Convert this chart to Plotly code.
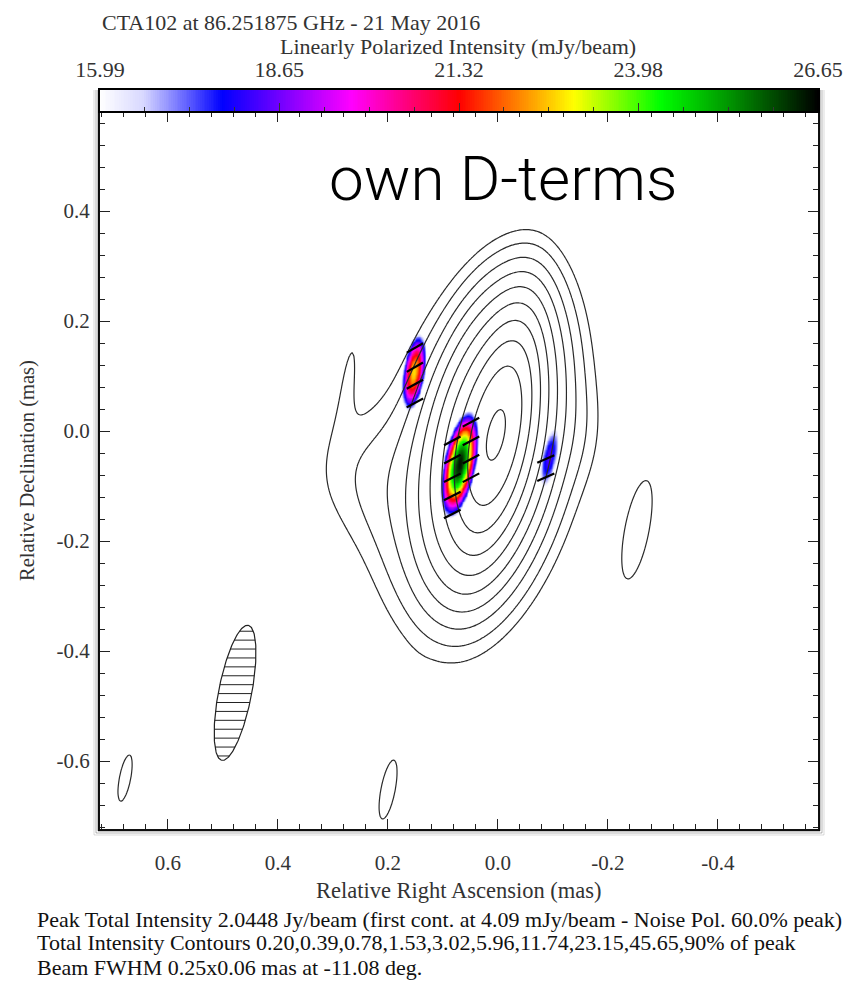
import numpy as np
import plotly.graph_objects as go

# ---------------- data ----------------
# total intensity model: gaussian components (RA mas, Dec mas, rel. amp, FWHM maj, FWHM min, PA deg N->E)
comp_ra   = [0.000, 0.015, 0.030, 0.110, 0.240, 0.270, -0.140, -0.253, 0.678, 0.200]
comp_dec  = [0.000, -0.020, -0.045, -0.130, -0.080, 0.110, 0.000, -0.180, -0.631, -0.653]
comp_amp  = [0.60, 0.40, 0.030, 0.0018, 0.003, 0.0020, 0.0012, 0.0029, 0.0022, 0.0023]
comp_maj  = [0.22, 0.27, 0.36, 0.24, 0.20, 0.20, 0.15, 0.25, 0.25, 0.25]
comp_min  = [0.065, 0.11, 0.19, 0.20, 0.16, 0.035, 0.08, 0.06, 0.06, 0.06]
comp_pa   = [-11.0, -11.0, -13.0, -20.0, 15.0, -8.0, 0.0, -11.0, -11.0, -11.0]

contour_levels = [0.20, 0.39, 0.78, 1.53, 3.02, 5.96, 11.74, 23.15, 45.65, 90.0]  # % of peak

# polarized intensity spots (mJy/beam)
pol_ra   = [0.153, 0.070, -0.093]
pol_dec  = [0.107, -0.060, -0.048]
pol_peak = [22.8, 26.5, 18.4]
pol_maj  = [0.20, 0.235, 0.24]
pol_min  = [0.058, 0.072, 0.062]
pol_pa   = [-8.0, -11.0, -11.0]

pmin, pmax = 15.99, 26.65
cbar_ticks = [15.99, 18.65, 21.32, 23.98, 26.65]
cbar_ticktext = ["15.99", "18.65", "21.32", "23.98", "26.65"]

# EVPA vectors
evpa_ra  = [0.151, 0.151, 0.151, 0.151, 0.083, 0.083, 0.083, 0.083, 0.083, 0.049, 0.049, 0.049, 0.049, -0.087, -0.087]
evpa_dec = [0.151, 0.116, 0.085, 0.051, -0.018, -0.051, -0.085, -0.118, -0.151, 0.016, -0.018, -0.051, -0.085, -0.051, -0.084]
evpa_deg = [-60, -60, -61, -62, -62, -62, -63, -63, -63, -62, -62, -62, -62, -66, -66]
evpa_len = 0.034

# beam
beam_ra, beam_dec = 0.478, -0.476
beam_maj, beam_min, beam_pa = 0.25, 0.06, -11.08

x_ticks = [0.6, 0.4, 0.2, 0.0, -0.2, -0.4]
x_ticktext = ["0.6", "0.4", "0.2", "0.0", "-0.2", "-0.4"]
y_ticks = [0.4, 0.2, 0.0, -0.2, -0.4, -0.6]
y_ticktext = ["0.4", "0.2", "0.0", "-0.2", "-0.4", "-0.6"]
ra_range = [0.7236, -0.582]
dec_range = [-0.7236, 0.58]

# ---------------- helpers ----------------
K = 4 * np.log(2)

def gauss(RA, DEC, ra0, dec0, amp, a, b, pa):
    t = np.deg2rad(pa)
    s, c = np.sin(t), np.cos(t)
    dx, dy = RA - ra0, DEC - dec0
    u = dx * s + dy * c
    v = dx * c - dy * s
    return amp * np.exp(-K * ((u / a) ** 2 + (v / b) ** 2))

# total intensity
gra = np.linspace(-0.59, 0.73, 441)
gdec = np.linspace(-0.73, 0.59, 441)
RA, DEC = np.meshgrid(gra, gdec)
I = np.zeros_like(RA)
for p in zip(comp_ra, comp_dec, comp_amp, comp_maj, comp_min, comp_pa):
    I += gauss(RA, DEC, *p)
Ipct = I / I.max() * 100.0

# polarized intensity
pra = np.linspace(-0.16, 0.26, 281)
pdec = np.linspace(-0.22, 0.23, 301)
PRA, PDEC = np.meshgrid(pra, pdec)
P = np.zeros_like(PRA)
for p in zip(pol_ra, pol_dec, pol_peak, pol_maj, pol_min, pol_pa):
    P = np.maximum(P, gauss(PRA, PDEC, *p))
Pm = np.where(P >= pmin, P, np.nan)

cscale = [
    [0.00, "#ffffff"], [0.06, "#d8d8ff"], [0.17, "#0000ff"], [0.26, "#8000ff"],
    [0.35, "#ff00ff"], [0.50, "#ff0000"], [0.58, "#ff8000"], [0.66, "#ffff00"],
    [0.78, "#00ff00"], [0.88, "#009000"], [1.00, "#000000"],
]

fig = go.Figure()

fig.add_trace(go.Heatmap(x=pra, y=pdec, z=Pm, colorscale=cscale, zmin=pmin, zmax=pmax,
                         showscale=False, hoverinfo="skip", zsmooth="best"))

for L in contour_levels:
    fig.add_trace(go.Contour(x=gra, y=gdec, z=Ipct, autocontour=False,
                             contours=dict(start=L, end=L, size=1, coloring="none"),
                             line=dict(color="#2a2a2a", width=1.2), showscale=False,
                             hoverinfo="skip"))

# EVPA segments
vx, vy = [], []
for r0, d0, ang in zip(evpa_ra, evpa_dec, evpa_deg):
    t = np.deg2rad(ang)
    ex, ny = np.sin(t) * evpa_len / 2, np.cos(t) * evpa_len / 2
    vx += [r0 - ex, r0 + ex, None]
    vy += [d0 - ny, d0 + ny, None]
fig.add_trace(go.Scatter(x=vx, y=vy, mode="lines", line=dict(color="black", width=2.2),
                         hoverinfo="skip", showlegend=False))

# beam ellipse + hatching
tt = np.linspace(0, 2 * np.pi, 200)
th = np.deg2rad(beam_pa)
s, c = np.sin(th), np.cos(th)
A2, B2 = (beam_maj / 2) ** 2, (beam_min / 2) ** 2
ex = (beam_maj / 2) * np.cos(tt) * s + (beam_min / 2) * np.sin(tt) * c
ny = (beam_maj / 2) * np.cos(tt) * c - (beam_min / 2) * np.sin(tt) * s
fig.add_trace(go.Scatter(x=beam_ra + ex, y=beam_dec + ny, mode="lines",
                         line=dict(color="#222", width=1.2), hoverinfo="skip", showlegend=False))
hx, hy = [], []
qa = s * s / A2 + c * c / B2
half_h = np.sqrt(A2 * c * c + B2 * s * s)
for dy in np.arange(-half_h + 0.008, half_h, 0.0162):
    qb = 2 * dy * (s * c / A2 - c * s / B2)
    qc = dy * dy * (c * c / A2 + s * s / B2) - 1
    disc = qb * qb - 4 * qa * qc
    if disc <= 0:
        continue
    x1 = (-qb - np.sqrt(disc)) / (2 * qa)
    x2 = (-qb + np.sqrt(disc)) / (2 * qa)
    hx += [beam_ra + x1, beam_ra + x2, None]
    hy += [beam_dec + dy, beam_dec + dy, None]
fig.add_trace(go.Scatter(x=hx, y=hy, mode="lines", line=dict(color="#222", width=1),
                         hoverinfo="skip", showlegend=False))

# colour bar (own axis)
cb_vals = np.linspace(pmin, pmax, 400)
fig.add_trace(go.Heatmap(x=cb_vals, y0=0.5, dy=1, z=[cb_vals], colorscale=cscale,
                         zmin=pmin, zmax=pmax, showscale=False, hoverinfo="skip",
                         xaxis="x2", yaxis="y2"))
fig.add_trace(go.Scatter(x=[pmin, pmax], y=[0.5, 0.5], mode="lines", line=dict(width=0),
                         opacity=0, hoverinfo="skip", showlegend=False, xaxis="x3", yaxis="y2"))

W, H = 867, 984
ml, mr, mt, mb = 100, 49, 90, 155
pw = W - ml - mr
ph = H - mt - mb
main_top = 717 / ph

def px(xp):
    return (xp - ml) / pw

def py(yp):
    return (H - mb - yp) / ph

tickfont = dict(family="Liberation Serif", size=21, color="#333")
axis_common = dict(showgrid=False, zeroline=False, showline=True, linecolor="#111", linewidth=2,
                   mirror="allticks", ticks="inside", ticklen=10, tickwidth=1.2, tickcolor="#222",
                   tickfont=tickfont)

cb_step = (pmax - pmin) / 16
fig.update_layout(
    width=W, height=H, margin=dict(l=ml, r=mr, t=mt, b=mb),
    paper_bgcolor="white", plot_bgcolor="white", showlegend=False,
    xaxis=dict(range=ra_range, tickvals=x_ticks, ticktext=x_ticktext, domain=[0, 1],
               minor=dict(ticks="inside", ticklen=5, tickcolor="#222", dtick=0.04, tick0=0),
               ticklabelstandoff=14, **axis_common),
    yaxis=dict(range=dec_range, tickvals=y_ticks, ticktext=y_ticktext, domain=[0, main_top],
               minor=dict(ticks="inside", ticklen=5, tickcolor="#222", dtick=0.04, tick0=0),
               ticklabelstandoff=4, **axis_common),
    xaxis2=dict(range=[pmin, pmax], domain=[0, 1], anchor="y2", side="top",
                tickvals=cbar_ticks, ticktext=cbar_ticktext, ticks="", showgrid=False,
                zeroline=False, showline=True, mirror=True, linecolor="black", linewidth=1.5,
                tickfont=dict(family="Liberation Serif", size=22, color="#333"),
                ticklabelstandoff=2),
    xaxis3=dict(range=[pmin, pmax], overlaying="x2", anchor="y2", side="bottom",
                tickvals=cbar_ticks, showticklabels=False, ticks="inside", ticklen=8,
                tickwidth=1.2, tickcolor="#333", showgrid=False, zeroline=False, showline=False,
                minor=dict(ticks="inside", ticklen=4, tickcolor="#333", dtick=cb_step, tick0=pmin)),
    yaxis2=dict(range=[0, 1], domain=[main_top + 0.001, 1], anchor="x2", showticklabels=False,
                ticks="", showgrid=False, zeroline=False, showline=True, mirror=True,
                linecolor="black", linewidth=1.5),
)

# soft drop shadows along the frame (paper coordinates)
shadow = []
dxp = 1.0 / pw
dyp = 1.0 / ph
for k, op in [(2, 0.22), (4, 0.14), (6, 0.07)]:
    shadow.append(dict(type="line", xref="paper", yref="paper", x0=-k * dxp, x1=-k * dxp,
                       y0=-k * dyp, y1=1.0, line=dict(color=f"rgba(0,0,0,{op})", width=2)))
    shadow.append(dict(type="line", xref="paper", yref="paper", x0=1 + k * dxp, x1=1 + k * dxp,
                       y0=-k * dyp, y1=1.0, line=dict(color=f"rgba(0,0,0,{op})", width=2)))
    shadow.append(dict(type="line", xref="paper", yref="paper", x0=-k * dxp, x1=1 + k * dxp,
                       y0=-k * dyp, y1=-k * dyp, line=dict(color=f"rgba(0,0,0,{op})", width=2)))
fig.update_layout(shapes=shadow)

serif = "Liberation Serif"
ann = [
    dict(text="CTA102 at 86.251875 GHz - 21 May 2016", x=px(100), y=py(22), xanchor="left",
         font=dict(family=serif, size=22, color="#333")),
    dict(text="Linearly Polarized Intensity (mJy/beam)", x=px(458), y=py(46), xanchor="center",
         font=dict(family=serif, size=22, color="#333")),
    dict(text="own D-terms", x=px(503), y=py(178), xanchor="center",
         font=dict(family="Roboto", size=62, color="black", weight=300)),
    dict(text="Relative Declination (mas)", x=px(28), y=py(471), xanchor="center", textangle=-90,
         font=dict(family=serif, size=20.5, color="#333")),
    dict(text="Relative Right Ascension (mas)", x=px(459), y=py(890), xanchor="center",
         font=dict(family=serif, size=22.5, color="#333")),
    dict(text="Peak Total Intensity 2.0448 Jy/beam (first cont. at 4.09 mJy/beam - Noise Pol. 60.0% peak)",
         x=px(35), y=py(919), xanchor="left", font=dict(family=serif, size=22, color="#111")),
    dict(text="Total Intensity Contours 0.20,0.39,0.78,1.53,3.02,5.96,11.74,23.15,45.65,90% of peak",
         x=px(35), y=py(943), xanchor="left", font=dict(family=serif, size=22, color="#111")),
    dict(text="Beam FWHM 0.25x0.06 mas at -11.08 deg.",
         x=px(35), y=py(967), xanchor="left", font=dict(family=serif, size=22, color="#111")),
]
for a in ann:
    a.update(xref="paper", yref="paper", yanchor="middle", showarrow=False)
fig.update_layout(annotations=ann)

fig.write_html("out.html")
